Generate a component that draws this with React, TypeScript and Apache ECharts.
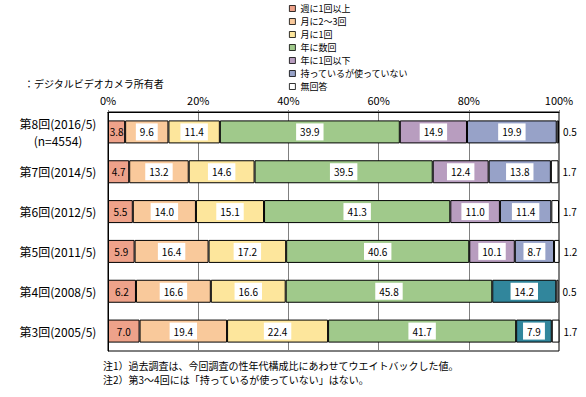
import React, { useEffect, useRef } from "react";
import * as echarts from "echarts";

const categories = [
  "第8回(2016/5)\n(n=4554)",
  "第7回(2014/5)",
  "第6回(2012/5)",
  "第5回(2011/5)",
  "第4回(2008/5)",
  "第3回(2005/5)",
];
const seriesNames = [
  "週に1回以上",
  "月に2～3回",
  "月に1回",
  "年に数回",
  "年に1回以下",
  "持っているが使っていない",
  "無回答",
];
const weekly = [3.8, 4.7, 5.5, 5.9, 6.2, 7.0];
const twoThree = [9.6, 13.2, 14.0, 16.4, 16.6, 19.4];
const monthly = [11.4, 14.6, 15.1, 17.2, 16.6, 22.4];
const fewYear = [39.9, 39.5, 41.3, 40.6, 45.8, 41.7];
const onceYear = [14.9, 12.4, 11.0, 10.1, 14.2, 7.9];
const unused = [19.9, 13.8, 11.4, 8.7, null, null];
const noAnswer = [0.5, 1.7, 1.7, 1.2, 0.5, 1.7];
const xTicks = [0, 20, 40, 60, 80, 100];

const colors = ["#EEA28A", "#F9C99B", "#FDE69C", "#A0C98B", "#B89DBF", "#97A2C8", "#FFFFFF"];
const teal = "#31869C";
const FONT = "'Noto Sans CJK JP', sans-serif";

export default function App() {
  const ref = useRef<HTMLDivElement>(null);
  useEffect(() => {
    document.body.style.margin = "0";
    if (!ref.current) return;
    const chart = echarts.init(ref.current, null, { renderer: "svg" });
    const fmt = (p: any) => {
      const v = typeof p.value === "object" && p.value !== null ? p.value.value : p.value;
      return v == null ? "" : Number(v).toFixed(1);
    };
    const boxLabel = {
      show: true,
      position: "inside",
      formatter: fmt,
      color: "#000",
      fontSize: 10,
      lineHeight: 11,
      fontFamily: FONT,
      backgroundColor: "#fff",
      padding: [3, 4, 3, 4],
    };
    const mk = (i: number, data: any[], label: any) => ({
      type: "bar",
      name: seriesNames[i],
      stack: "total",
      data,
      barWidth: 23,
      itemStyle: { color: colors[i], borderColor: "#000", borderWidth: 1 },
      label,
    });
    const onceData = onceYear.map((v, i) =>
      unused[i] == null ? { value: v, itemStyle: { color: teal } } : v
    );
    const option: any = {
      animation: false,
      textStyle: { fontFamily: FONT },
      legend: {
        orient: "vertical",
        left: 289,
        top: 2,
        itemWidth: 6,
        itemHeight: 6,
        itemGap: 0,
        padding: 0,
        icon: "rect",
        data: seriesNames,
        itemStyle: { borderColor: "#000", borderWidth: 0.8 },
        textStyle: { fontSize: 9, lineHeight: 13, color: "#000", fontFamily: FONT },
      },
      grid: {
        left: 108,
        right: 27,
        top: 112,
        height: 239,
        show: true,
        borderColor: "#000",
        borderWidth: 1,
      },
      xAxis: {
        type: "value",
        position: "top",
        min: xTicks[0],
        max: xTicks[xTicks.length - 1],
        interval: 20,
        axisLabel: { formatter: "{value}%", fontSize: 11, color: "#000", margin: 7, fontFamily: FONT },
        axisLine: { show: true, lineStyle: { color: "#000" } },
        axisTick: { show: true, length: 2, lineStyle: { color: "#808080" } },
        splitLine: { show: true, lineStyle: { color: "#808080", width: 1 } },
      },
      yAxis: {
        type: "category",
        inverse: true,
        data: categories,
        axisLine: { show: true, lineStyle: { color: "#000" } },
        axisTick: { show: false },
        axisLabel: {
          align: "center",
          margin: 50,
          fontSize: 12,
          lineHeight: 17,
          color: "#000",
          fontFamily: FONT,
        },
      },
      series: [
        mk(0, weekly, { show: true, position: "inside", formatter: fmt, color: "#000", fontSize: 10, fontFamily: FONT }),
        mk(1, twoThree, boxLabel),
        mk(2, monthly, boxLabel),
        mk(3, fewYear, boxLabel),
        mk(4, onceData, boxLabel),
        mk(5, unused, boxLabel),
        mk(6, noAnswer, {
          show: true,
          position: "right",
          distance: 4,
          formatter: fmt,
          color: "#000",
          fontSize: 10,
          fontFamily: FONT,
        }),
      ],
      graphic: [
        {
          type: "text",
          left: 24,
          top: 78,
          style: { text: "：デジタルビデオカメラ所有者", fontSize: 10, fill: "#000", fontFamily: FONT },
        },
        {
          type: "text",
          left: 103,
          top: 360,
          style: {
            text: "注1）過去調査は、今回調査の性年代構成比にあわせてウエイトバックした値。",
            fontSize: 10,
            fill: "#000",
            fontFamily: FONT,
          },
        },
        {
          type: "text",
          left: 103,
          top: 374,
          style: {
            text: "注2）第3～4回には「持っているが使っていない」はない。",
            fontSize: 10,
            fill: "#000",
            fontFamily: FONT,
          },
        },
      ],
    };
    chart.setOption(option);
    return () => chart.dispose();
  }, []);
  return <div ref={ref} style={{ width: 586, height: 397 }} />;
}
